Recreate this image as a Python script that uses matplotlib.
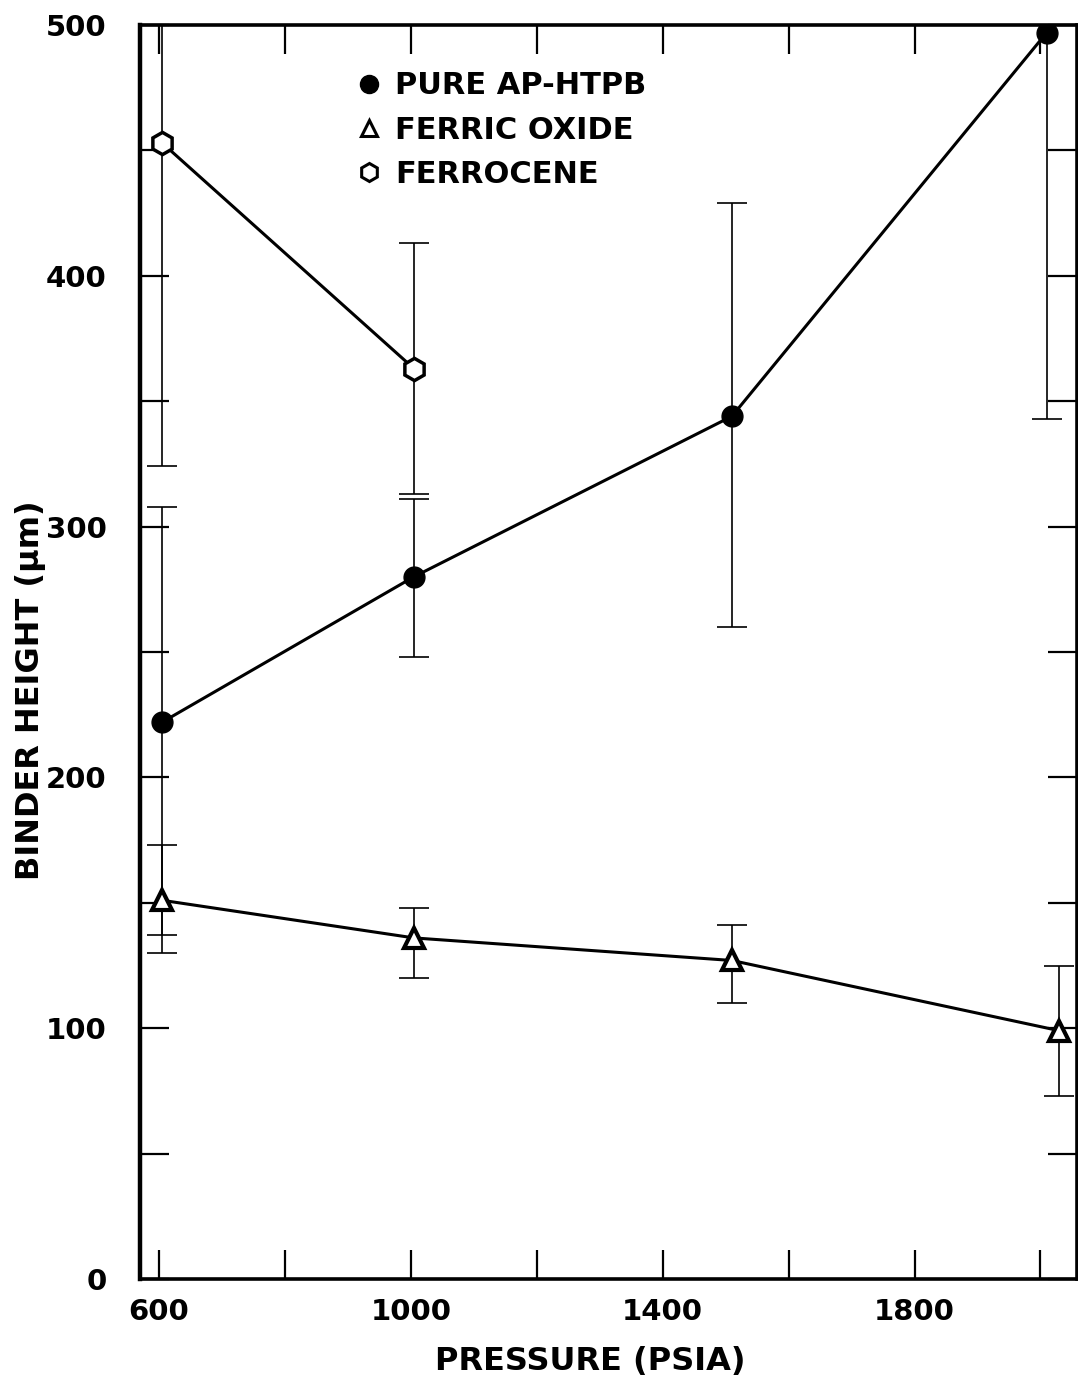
import matplotlib
matplotlib.use("Agg")
import matplotlib.pyplot as plt
from matplotlib.lines import Line2D
import numpy as np

# ---- data ----
pure_x = [605, 1005, 1510, 2010]
pure_y = [222, 280, 344, 497]
pure_hi = [308, 311, 429, 650]
pure_lo = [137, 248, 260, 343]

ferric_x = [605, 1005, 1510, 2030]
ferric_y = [151, 136, 127, 99]
ferric_hi = [173, 148, 141, 125]
ferric_lo = [130, 120, 110, 73]

ferro_x = [605, 1005]
ferro_y = [453, 363]
ferro_hi = [580, 413]
ferro_lo = [324, 313]

labels = ["PURE AP-HTPB", "FERRIC OXIDE", "FERROCENE"]
xtick_major = [600, 1000, 1400, 1800]
xtick_all = [600, 800, 1000, 1200, 1400, 1600, 1800, 2000]
ytick_major = [0, 100, 200, 300, 400, 500]
ytick_all = list(range(0, 501, 50))

plt.rcParams['font.family'] = ['DejaVu Sans']
plt.rcParams['font.weight'] = 'bold'

fig = plt.figure(figsize=(10.78, 13.83), dpi=100)
ax = fig.add_axes([140/1078, 104/1383, 937/1078, 1254/1383])

def err(y, hi, lo):
    y = np.array(y); hi = np.array(hi); lo = np.array(lo)
    return np.vstack([y - lo, hi - y])

ebkw = dict(ecolor='black', elinewidth=1.2, capsize=11, capthick=1.2, zorder=2)

ax.errorbar(pure_x, pure_y, yerr=err(pure_y, pure_hi, pure_lo), fmt='none', **ebkw)
ax.errorbar(ferric_x, ferric_y, yerr=err(ferric_y, ferric_hi, ferric_lo), fmt='none', **ebkw)
ax.errorbar(ferro_x, ferro_y, yerr=err(ferro_y, ferro_hi, ferro_lo), fmt='none', **ebkw)

ax.plot(pure_x, pure_y, color='black', lw=2.2, marker='o', ms=15,
        mfc='black', mec='black', zorder=3)
ax.plot(ferric_x, ferric_y, color='black', lw=2.2, marker='^', ms=15,
        mfc='white', mec='black', mew=3, zorder=3)
ax.plot(ferro_x, ferro_y, color='black', lw=2.2, marker='h', ms=16,
        mfc='white', mec='black', mew=2.5, zorder=3)

ax.set_xlim(570, 2058)
ax.set_ylim(0, 500)

ax.set_xticks(xtick_all)
ax.set_xticklabels([str(v) if v in xtick_major else '' for v in xtick_all])
ax.set_yticks(ytick_all)
ax.set_yticklabels([str(v) if v in ytick_major else '' for v in ytick_all])

ax.tick_params(axis='both', which='major', direction='in', length=21, width=1.6,
               top=True, right=True, labelsize=21, pad=14, colors='black')
ax.tick_params(axis='y', pad=24)
for lab in ax.get_xticklabels() + ax.get_yticklabels():
    lab.set_fontweight('bold')

for side, w in [('left', 3.2), ('bottom', 2.6), ('top', 2.6), ('right', 2.6)]:
    ax.spines[side].set_linewidth(w)

ax.set_xlabel("PRESSURE (PSIA)", fontsize=23, fontweight='bold')
ax.set_ylabel("BINDER HEIGHT (μm)", fontsize=23, fontweight='bold')
ax.xaxis.set_label_coords((590 - 140) / 937, -(1346 - 1279) / 1254)
ax.yaxis.set_label_coords((46 - 140) / 937, (1279 - 690) / 1254)

handles = [
    Line2D([], [], ls='none', marker='o', ms=13, mfc='black', mec='black'),
    Line2D([], [], ls='none', marker='^', ms=12, mfc='white', mec='black', mew=2.2),
    Line2D([], [], ls='none', marker='h', ms=13, mfc='white', mec='black', mew=2.2),
]
leg = ax.legend(handles, labels, loc='upper left', bbox_to_anchor=(0.228, 0.963),
                frameon=False, handlelength=1.0, handletextpad=0.35,
                labelspacing=0.5, borderpad=0, borderaxespad=0,
                prop=dict(size=22, weight='bold'))

fig.savefig("out.png", dpi=100)
